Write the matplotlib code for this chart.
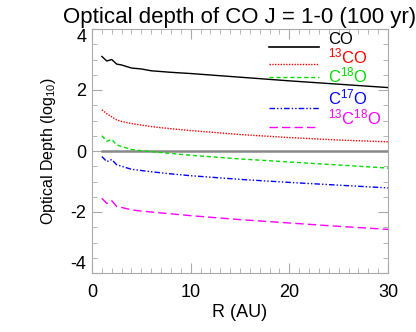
import numpy as np
import matplotlib
matplotlib.use('Agg')
import matplotlib.pyplot as plt
from matplotlib.ticker import MultipleLocator

plt.rcParams['font.family'] = ['Liberation Sans', 'DejaVu Sans']
plt.rcParams['axes.unicode_minus'] = False
plt.rcParams['mathtext.fontset'] = 'custom'
plt.rcParams['mathtext.rm'] = 'Liberation Sans'
plt.rcParams['mathtext.it'] = 'Liberation Sans:italic'
plt.rcParams['mathtext.bf'] = 'Liberation Sans:bold'

# radius (AU)
r = [1.0, 1.5, 2.0, 2.5, 3.0, 4.0, 5.0, 6.0, 8.0, 10.0, 15.0, 20.0, 25.0, 30.0]

# log10 optical depth for each isotopologue
tau_co = [3.10, 2.95, 3.00, 2.85, 2.82, 2.72, 2.69, 2.63, 2.58, 2.54, 2.42, 2.30, 2.19, 2.08]
tau_13co = [1.35, 1.22, 1.12, 1.02, 0.97, 0.90, 0.85, 0.80, 0.73, 0.67, 0.54, 0.44, 0.36, 0.30]
tau_c18o = [0.50, 0.32, 0.38, 0.20, 0.15, 0.05, 0.01, -0.02, -0.08, -0.14, -0.26, -0.36, -0.46, -0.56]
tau_c17o = [-0.18, -0.35, -0.28, -0.45, -0.50, -0.60, -0.64, -0.68, -0.75, -0.81, -0.93, -1.03, -1.12, -1.21]
tau_13c18o = [-1.55, -1.72, -1.63, -1.82, -1.85, -1.93, -1.97, -2.00, -2.06, -2.12, -2.25, -2.36, -2.47, -2.57]

labels = ['CO', r'$\mathrm{^{13}}$CO', r'C$\mathrm{^{18}}$O', r'C$\mathrm{^{17}}$O',
          r'$\mathrm{^{13}}$C$\mathrm{^{18}}$O']
colors = ['black', 'red', '#00dd00', 'blue', 'magenta']
styles = ['-', (0, (1, 1)), (0, (3, 2)), (0, (4, 1.5, 1, 1.5, 1, 1.5)), (0, (6, 3))]
series = [tau_co, tau_13co, tau_c18o, tau_c17o, tau_13c18o]

fig = plt.figure(figsize=(4.16, 3.32), dpi=100)
ax = fig.add_axes([92/416, 1-273/332, 296/416, 244/332])

ax.plot([r[0], r[-1]], [0, 0], color='#888888', lw=1.8)
for y, c, ls in zip(series, colors, styles):
    ax.plot(r, y, color=c, ls=ls, lw=1)

# legend drawn by hand like the IDL original
leg_y_line = [0.927, 0.855, 0.805, 0.676, 0.60]
leg_y_text = [0.938, 0.857, 0.782, 0.689, 0.607]
for i in range(5):
    ax.plot([0.598, 0.767], [leg_y_line[i], leg_y_line[i]], transform=ax.transAxes,
            color=colors[i], ls=styles[i], lw=1.2 if i == 0 else 1)
    ax.text(0.797, leg_y_text[i], labels[i], transform=ax.transAxes, color=colors[i],
            fontsize=12, va='baseline', ha='left')

ax.set_xlim(0, 30)
ax.set_ylim(-4, 4)
ax.xaxis.set_major_locator(MultipleLocator(10))
ax.xaxis.set_minor_locator(MultipleLocator(1))
ax.yaxis.set_major_locator(MultipleLocator(2))
ax.yaxis.set_minor_locator(MultipleLocator(0.5))
ax.tick_params(which='both', direction='in', top=True, right=True, color='#aaaaaa',
               labelsize=13)
ax.tick_params(axis='x', pad=8)
ax.tick_params(axis='y', pad=4)
ax.tick_params(which='major', length=7)
ax.tick_params(which='minor', length=3.5)
for s in ax.spines.values():
    s.set_color('#aaaaaa')

ax.set_xlabel('R (AU)', fontsize=13, labelpad=2)
ax.set_ylabel(r'Optical Depth (log$\mathrm{_{10}}$)', fontsize=11.5, labelpad=9)
ax.set_title('Optical depth of CO J = 1-0 (100 yr)', fontsize=16, pad=4)

# end labels sit inside the axis range, as in the original
fig.canvas.draw()
for lab in ax.get_yticklabels():
    t = lab.get_text().replace('\u2212', '-')
    if t == '4':
        lab.set_va('top')
    elif t == '-4':
        lab.set_va('bottom')

fig.savefig('out.png', dpi=100)
